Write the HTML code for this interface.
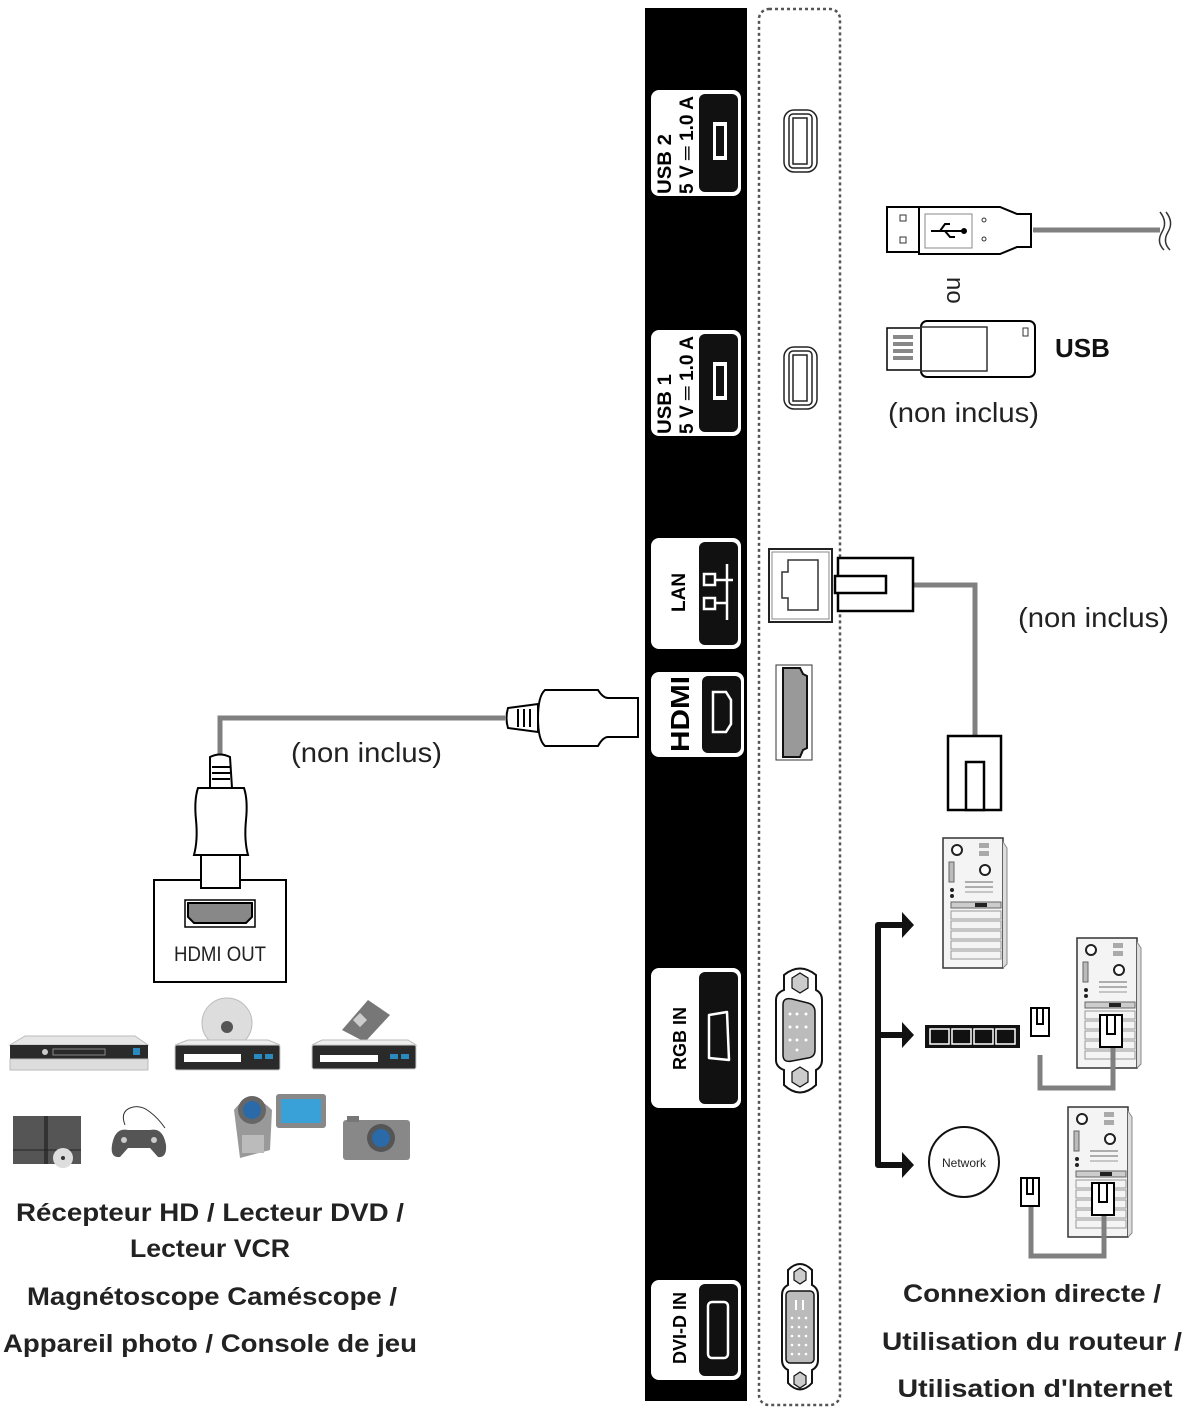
<!DOCTYPE html>
<html><head><meta charset="utf-8"><style>
html,body{margin:0;padding:0;background:#fff;}
svg{display:block;}
text{font-family:"Liberation Sans",sans-serif;}
</style></head><body>
<svg width="1189" height="1409" viewBox="0 0 1189 1409" xmlns="http://www.w3.org/2000/svg">
<defs>
<g id="pc">
 <rect x="0" y="0" width="60" height="130" fill="#f4f4f4" stroke="#333" stroke-width="1.5"/>
 <path d="M60 4 L64 10 L64 126 L60 130" fill="#ddd" stroke="#888"/>
 <circle cx="14" cy="12" r="5" fill="#fff" stroke="#222" stroke-width="2"/>
 <rect x="36" y="5" width="10" height="5" fill="#aaa"/><rect x="36" y="13" width="10" height="5" fill="#aaa"/>
 <circle cx="42" cy="32" r="5" fill="#fff" stroke="#222" stroke-width="2"/>
 <rect x="6" y="24" width="5" height="20" fill="#bbb" stroke="#666"/>
 <circle cx="9" cy="52" r="2" fill="#222"/><circle cx="9" cy="58" r="2" fill="#222"/>
 <line x1="22" y1="44" x2="50" y2="44" stroke="#666"/><line x1="22" y1="49" x2="50" y2="49" stroke="#666"/><line x1="22" y1="54" x2="50" y2="54" stroke="#999"/>
 <rect x="8" y="64" width="50" height="6" fill="#ccc" stroke="#666"/><rect x="32" y="65" width="12" height="4" fill="#222"/>
 <g stroke="#999" fill="none"><rect x="8" y="73" width="50" height="8"/><rect x="8" y="83" width="50" height="8"/><rect x="8" y="93" width="50" height="8"/><rect x="8" y="103" width="50" height="8"/><rect x="8" y="113" width="50" height="8"/></g>
</g>
<g id="rj">
 <rect x="0" y="0" width="18" height="28" fill="#fff" stroke="#000" stroke-width="2"/>
 <rect x="6" y="0" width="6" height="16" fill="#fff" stroke="#000" stroke-width="2"/>
</g>
</defs>

<rect x="645" y="8" width="102" height="1393" fill="#000"/>
<rect x="759" y="9" width="81" height="1396" rx="10" fill="none" stroke="#555" stroke-width="2.5" stroke-dasharray="3,3"/>

<!-- USB2 -->
<rect x="651" y="90" width="90" height="106" rx="8" fill="#fff"/>
<rect x="699" y="94" width="39" height="98" rx="6" fill="#111"/>
<rect x="713" y="122" width="14" height="38" fill="#fff"/><rect x="716" y="126" width="8" height="30" fill="#111"/>
<text transform="translate(671,194) rotate(-90)" font-size="19" font-weight="bold" textLength="60" lengthAdjust="spacingAndGlyphs">USB 2</text>
<text transform="translate(693,194) rotate(-90)" font-size="19" font-weight="bold" textLength="98" lengthAdjust="spacingAndGlyphs">5 V ═ 1.0 A</text>
<!-- USB1 -->
<rect x="651" y="330" width="90" height="106" rx="8" fill="#fff"/>
<rect x="699" y="334" width="39" height="98" rx="6" fill="#111"/>
<rect x="713" y="362" width="14" height="38" fill="#fff"/><rect x="716" y="366" width="8" height="30" fill="#111"/>
<text transform="translate(671,434) rotate(-90)" font-size="19" font-weight="bold" textLength="60" lengthAdjust="spacingAndGlyphs">USB 1</text>
<text transform="translate(693,434) rotate(-90)" font-size="19" font-weight="bold" textLength="98" lengthAdjust="spacingAndGlyphs">5 V ═ 1.0 A</text>
<!-- LAN -->
<rect x="651" y="538" width="90" height="111" rx="8" fill="#fff"/>
<rect x="699" y="542" width="39" height="103" rx="6" fill="#111"/>
<text transform="translate(685,612) rotate(-90)" font-size="19" font-weight="bold">LAN</text>
<g fill="none" stroke="#fff" stroke-width="2.5"><rect x="704" y="574" width="11" height="11"/><rect x="704" y="598" width="11" height="11"/><line x1="727" y1="564" x2="727" y2="620"/><line x1="715" y1="580" x2="733" y2="580"/><line x1="715" y1="603" x2="727" y2="603"/></g>
<!-- HDMI -->
<rect x="651" y="672" width="93" height="85" rx="8" fill="#fff"/>
<rect x="702" y="676" width="39" height="77" rx="6" fill="#111"/>
<path d="M713 692 L726 692 L731 700 L731 724 L726 732 L713 732 Z" fill="none" stroke="#fff" stroke-width="2.5"/>
<text transform="translate(689,752) rotate(-90)" font-size="26" font-weight="bold" textLength="76" lengthAdjust="spacingAndGlyphs">HDMI</text>
<!-- RGB -->
<rect x="651" y="968" width="90" height="140" rx="8" fill="#fff"/>
<rect x="699" y="972" width="39" height="132" rx="6" fill="#111"/>
<path d="M709 1015 L727 1012 L729 1060 L709 1058 Z" fill="none" stroke="#fff" stroke-width="2.5" stroke-linejoin="round"/>
<text transform="translate(686,1070) rotate(-90)" font-size="18" font-weight="bold">RGB IN</text>
<!-- DVI -->
<rect x="651" y="1280" width="90" height="100" rx="8" fill="#fff"/>
<rect x="699" y="1284" width="39" height="92" rx="6" fill="#111"/>
<rect x="708" y="1302" width="20" height="56" rx="4" fill="none" stroke="#fff" stroke-width="2.5"/>
<text transform="translate(686,1364) rotate(-90)" font-size="18" font-weight="bold">DVI-D IN</text>

<g fill="#fff" stroke="#222" stroke-width="1.5">
<rect x="784" y="110" width="33" height="62" rx="10"/><rect x="789" y="114" width="23" height="54" rx="4"/><rect x="793" y="118" width="14" height="46" fill="#fff"/>
<rect x="784" y="347" width="33" height="62" rx="10"/><rect x="789" y="351" width="23" height="54" rx="4"/><rect x="793" y="355" width="14" height="46" fill="#fff"/>
</g>
<rect x="769" y="549" width="63" height="73" fill="#fff" stroke="#222" stroke-width="2"/>
<rect x="772" y="552" width="57" height="67" fill="none" stroke="#888"/>
<path d="M788 560 L818 560 L818 610 L788 610 L788 598 L782 598 L782 572 L788 572 Z" fill="none" stroke="#333" stroke-width="1.5"/>
<path d="M914 585 L975 585 L975 736" fill="none" stroke="#808080" stroke-width="5"/>
<rect x="838" y="558" width="75" height="53" fill="#fff" stroke="#000" stroke-width="2.5"/>
<rect x="835" y="576" width="51" height="17" fill="#fff" stroke="#000" stroke-width="2.5"/>
<rect x="948" y="736" width="53" height="74" fill="#fff" stroke="#000" stroke-width="2.5"/>
<rect x="966" y="762" width="18" height="48" fill="#fff" stroke="#000" stroke-width="2.5"/>
<rect x="776" y="665" width="36" height="95" fill="#fff" stroke="#333"/>
<path d="M783 668 L800 668 L803 674 L807 676 L807 748 L803 750 L800 757 L783 757 Z" fill="#999" stroke="#111" stroke-width="2"/>
<g stroke="#111" stroke-width="2">
<path d="M784 975 Q800 962 816 975 L816 990 Q822 993 822 1000 L822 1060 Q822 1067 816 1070 L816 1085 Q800 1100 784 1085 L784 1070 Q776 1067 776 1060 L776 1000 Q776 993 784 990 Z" fill="#fff"/>
<polygon points="792,978 800,973 808,978 808,988 800,993 792,988" fill="#ccc" stroke-width="1.2"/>
<polygon points="792,1072 800,1067 808,1072 808,1082 800,1087 792,1082" fill="#ccc" stroke-width="1.2"/>
<path d="M783 1005 Q783 997 792 999 L808 1003 Q815 1005 815 1012 L815 1050 Q815 1057 808 1058 L792 1061 Q783 1063 783 1055 Z" fill="#bbb" stroke-width="1.5"/>
</g>
<g fill="#fff"><circle cx="790" cy="1014" r="1.5"/><circle cx="797" cy="1014" r="1.5"/><circle cx="806" cy="1014" r="1.5"/><circle cx="790" cy="1027" r="1.5"/><circle cx="797" cy="1027" r="1.5"/><circle cx="806" cy="1027" r="1.5"/><circle cx="790" cy="1040" r="1.5"/><circle cx="797" cy="1040" r="1.5"/><circle cx="806" cy="1040" r="1.5"/><circle cx="797" cy="1050" r="1.5"/></g>
<g stroke="#111" stroke-width="2">
<path d="M788 1270 Q800 1258 812 1270 L812 1285 Q818 1288 818 1295 L818 1360 Q818 1367 812 1370 L812 1383 Q800 1396 788 1383 L788 1370 Q782 1367 782 1360 L782 1295 Q782 1288 788 1285 Z" fill="#fff"/>
<polygon points="794,1272 800,1268 806,1272 806,1280 800,1284 794,1280" fill="#ccc" stroke-width="1.2"/>
<polygon points="794,1376 800,1372 806,1376 806,1384 800,1388 794,1384" fill="#ccc" stroke-width="1.2"/>
<rect x="786" y="1291" width="28" height="72" rx="4" fill="#bbb" stroke-width="1.5"/>
</g>
<g fill="#fff"><rect x="795" y="1300" width="2" height="10"/><rect x="802" y="1300" width="2" height="10"/>
<circle cx="792" cy="1318" r="1.3"/><circle cx="799" cy="1318" r="1.3"/><circle cx="806" cy="1318" r="1.3"/>
<circle cx="792" cy="1327" r="1.3"/><circle cx="799" cy="1327" r="1.3"/><circle cx="806" cy="1327" r="1.3"/>
<circle cx="792" cy="1336" r="1.3"/><circle cx="799" cy="1336" r="1.3"/><circle cx="806" cy="1336" r="1.3"/>
<circle cx="792" cy="1345" r="1.3"/><circle cx="799" cy="1345" r="1.3"/><circle cx="806" cy="1345" r="1.3"/>
<circle cx="792" cy="1354" r="1.3"/><circle cx="799" cy="1354" r="1.3"/><circle cx="806" cy="1354" r="1.3"/></g>

<!-- HDMI cable -->
<path d="M505 718 L220 718 L220 756" fill="none" stroke="#808080" stroke-width="5"/>
<path d="M545 690 L598 690 Q603 698 608 698 L638 698 L638 737 L608 737 Q603 737 598 746 L545 746 Q538 740 538 718 Q538 696 545 690 Z" fill="#fff" stroke="#000" stroke-width="2"/>
<path d="M508 708 L538 704 L538 732 L508 728 Q505 718 508 708 Z" fill="#fff" stroke="#000" stroke-width="2"/>
<g stroke="#000" stroke-width="2"><line x1="518" y1="709" x2="518" y2="727"/><line x1="524" y1="709" x2="524" y2="727"/><line x1="530" y1="709" x2="530" y2="727"/></g>
<path d="M210 757 Q220 752 230 757 L232 788 L210 788 Z" fill="#fff" stroke="#000" stroke-width="2"/>
<g stroke="#000" stroke-width="2"><line x1="212" y1="767" x2="230" y2="767"/><line x1="212" y1="773" x2="230" y2="773"/><line x1="212" y1="779" x2="230" y2="779"/></g>
<path d="M198 788 L244 788 Q248 800 246 820 Q244 840 248 855 L194 855 Q198 840 196 820 Q194 800 198 788 Z" fill="#fff" stroke="#000" stroke-width="2"/>
<rect x="201" y="855" width="39" height="33" fill="#fff" stroke="#000" stroke-width="2"/>
<path d="M201 880 L154 880 L154 982 L286 982 L286 880 L240 880" fill="none" stroke="#000" stroke-width="2"/>
<rect x="185" y="900" width="70" height="27" fill="#fff" stroke="#000" stroke-width="1.5"/>
<path d="M188 903 L252 903 L252 917 L246 923 L194 923 L188 917 Z" fill="#888" stroke="#000" stroke-width="2"/>
<text x="220" y="961" font-size="21" text-anchor="middle" textLength="92" lengthAdjust="spacingAndGlyphs" fill="#222">HDMI OUT</text>
<text x="291" y="762" font-size="28" fill="#222" textLength="151" lengthAdjust="spacingAndGlyphs">(non inclus)</text>
<text x="888" y="422" font-size="28" fill="#222" textLength="151" lengthAdjust="spacingAndGlyphs">(non inclus)</text>
<text x="1018" y="627" font-size="28" fill="#222" textLength="151" lengthAdjust="spacingAndGlyphs">(non inclus)</text>

<path d="M1033 230 L1160 230" stroke="#808080" stroke-width="5"/>
<path d="M1160 212 Q1168 222 1162 232 Q1156 242 1164 250 M1166 212 Q1174 222 1168 232 Q1162 242 1170 250" fill="none" stroke="#333" stroke-width="1.5"/>
<rect x="887" y="207" width="32" height="45" fill="#fff" stroke="#000" stroke-width="2"/>
<path d="M919 207 L1000 207 L1017 214 L1031 214 L1031 247 L1017 247 L1000 254 L919 254 Z" fill="#fff" stroke="#000" stroke-width="2"/>
<rect x="925" y="214" width="47" height="34" fill="#fff" stroke="#888"/>
<rect x="900" y="215" width="6" height="6" fill="none" stroke="#333"/><rect x="900" y="237" width="6" height="6" fill="none" stroke="#333"/>
<circle cx="984" cy="220" r="2" fill="none" stroke="#333"/><circle cx="984" cy="239" r="2" fill="none" stroke="#333"/>
<path d="M931 231 L963 231 M940 231 L945 224 L950 224 M945 231 L950 237 L955 237" fill="none" stroke="#000" stroke-width="2"/>
<circle cx="964" cy="231" r="3" fill="#000"/>
<text transform="translate(947,277) rotate(90)" font-size="24" fill="#222">no</text>
<rect x="887" y="328" width="34" height="42" fill="#fff" stroke="#000" stroke-width="1.5"/>
<g fill="#888"><rect x="893" y="335" width="20" height="4"/><rect x="893" y="342" width="20" height="4"/><rect x="893" y="349" width="20" height="4"/><rect x="893" y="356" width="20" height="4"/></g>
<rect x="921" y="321" width="114" height="56" rx="6" fill="#fff" stroke="#000" stroke-width="2"/>
<rect x="921" y="327" width="66" height="44" fill="none" stroke="#333" stroke-width="1.5"/>
<rect x="1023" y="328" width="5" height="8" fill="none" stroke="#333"/>
<text x="1055" y="357" font-size="26" font-weight="bold" fill="#111">USB</text>

<path d="M906 925 L878 925 L878 1165 L906 1165 M878 1035 L906 1035" fill="none" stroke="#111" stroke-width="6" stroke-linejoin="round"/>
<polygon points="902,912 914,925 902,938" fill="#111"/>
<polygon points="902,1022 914,1035 902,1048" fill="#111"/>
<polygon points="902,1152 914,1165 902,1178" fill="#111"/>
<use href="#pc" x="943" y="838"/>
<use href="#pc" x="1077" y="938"/>
<use href="#pc" x="1068" y="1107"/>
<rect x="925" y="1025" width="95" height="23" fill="#111"/>
<g fill="none" stroke="#fff" stroke-width="1.5"><rect x="930" y="1029" width="19" height="15"/><rect x="952" y="1029" width="19" height="15"/><rect x="974" y="1029" width="19" height="15"/><rect x="996" y="1029" width="19" height="15"/></g>
<path d="M1040 1055 L1040 1088 L1113 1088 L1113 1040" fill="none" stroke="#808080" stroke-width="5"/>
<use href="#rj" x="1031" y="1008"/>
<rect x="1100" y="1015" width="22" height="32" fill="#fff" stroke="#000" stroke-width="2"/><rect x="1107" y="1015" width="8" height="19" fill="#fff" stroke="#000" stroke-width="2"/>
<circle cx="964" cy="1162" r="35" fill="#fff" stroke="#111" stroke-width="2"/>
<text x="964" y="1167" font-size="12" text-anchor="middle" fill="#222">Network</text>
<path d="M1031 1205 L1031 1256 L1104 1256 L1104 1210" fill="none" stroke="#808080" stroke-width="5"/>
<use href="#rj" x="1021" y="1178"/>
<rect x="1092" y="1183" width="22" height="32" fill="#fff" stroke="#000" stroke-width="2"/><rect x="1099" y="1183" width="8" height="19" fill="#fff" stroke="#000" stroke-width="2"/>

<g>
 <path d="M10 1045 L25 1036 L135 1036 L148 1045 Z" fill="#e6e6e6" stroke="#bbb"/>
 <rect x="10" y="1045" width="138" height="14" fill="#2a2a2a"/>
 <rect x="10" y="1059" width="138" height="11" fill="#ddd" stroke="#bbb"/>
 <rect x="53" y="1049" width="52" height="6" fill="none" stroke="#888"/><circle cx="45" cy="1052" r="3" fill="#ccc"/><rect x="133" y="1048" width="7" height="7" fill="#2a8ac0"/>
 <circle cx="227" cy="1023" r="25" fill="#ddd" stroke="#bbb"/><circle cx="227" cy="1027" r="6" fill="#555"/>
 <path d="M175 1045 L188 1040 L268 1040 L280 1045 Z" fill="#eee" stroke="#bbb"/>
 <rect x="175" y="1045" width="105" height="25" rx="2" fill="#2a2a2a" stroke="#ccc"/>
 <rect x="184" y="1054" width="57" height="8" fill="#fff"/><rect x="254" y="1054" width="8" height="5" fill="#2a8ac0"/><rect x="265" y="1054" width="8" height="5" fill="#2a8ac0"/>
 <polygon points="342,1030 368,1000 390,1015 365,1042" fill="#777"/>
 <rect x="355" y="1015" width="10" height="10" fill="#ccc" transform="rotate(-45 360 1020)"/>
 <path d="M312 1045 L322 1040 L408 1040 L416 1045 Z" fill="#eee" stroke="#bbb"/>
 <rect x="312" y="1045" width="104" height="24" rx="2" fill="#2a2a2a" stroke="#ccc"/>
 <rect x="320" y="1055" width="58" height="7" fill="#fff"/><rect x="390" y="1054" width="8" height="5" fill="#2a8ac0"/><rect x="401" y="1054" width="8" height="5" fill="#2a8ac0"/>
 <rect x="13" y="1116" width="68" height="48" fill="#555"/><rect x="44" y="1116" width="4" height="48" fill="#333"/><line x1="13" y1="1150" x2="81" y2="1150" stroke="#222"/>
 <circle cx="63" cy="1158" r="10" fill="#ddd"/><circle cx="63" cy="1158" r="2" fill="#333"/>
 <path d="M125 1125 Q120 1112 130 1108 Q140 1104 150 1112 Q158 1118 165 1128" fill="none" stroke="#333"/>
 <path d="M112 1145 Q115 1127 128 1130 L150 1130 Q163 1127 166 1145 Q167 1158 158 1157 L150 1148 L128 1148 L120 1157 Q110 1158 112 1145 Z" fill="#555"/>
 <circle cx="124" cy="1140" r="3" fill="#ccc"/><circle cx="154" cy="1140" r="3" fill="#ccc"/>
 <rect x="276" y="1094" width="50" height="34" rx="3" fill="#888"/><rect x="281" y="1099" width="40" height="24" fill="#3aa0d8"/>
 <path d="M234 1110 Q250 1088 272 1110 L270 1150 L240 1158 Z" fill="#999"/>
 <circle cx="252" cy="1110" r="14" fill="#666"/><circle cx="252" cy="1110" r="9" fill="#2a6aa8"/>
 <rect x="242" y="1135" width="22" height="18" fill="#bbb"/>
 <rect x="343" y="1120" width="67" height="40" rx="3" fill="#888"/><rect x="347" y="1116" width="12" height="6" fill="#777"/>
 <circle cx="381" cy="1138" r="14" fill="#555"/><circle cx="381" cy="1138" r="9" fill="#2a6aa8"/>
</g>

<g font-weight="bold" fill="#222" font-size="25" text-anchor="middle">
<text x="210" y="1221" textLength="388" lengthAdjust="spacingAndGlyphs">Récepteur HD / Lecteur DVD /</text>
<text x="210" y="1257" textLength="160" lengthAdjust="spacingAndGlyphs">Lecteur VCR</text>
<text x="212" y="1305" textLength="370" lengthAdjust="spacingAndGlyphs">Magnétoscope Caméscope /</text>
<text x="210" y="1352" textLength="414" lengthAdjust="spacingAndGlyphs">Appareil photo / Console de jeu</text>
<text x="1032" y="1302" textLength="258" lengthAdjust="spacingAndGlyphs">Connexion directe /</text>
<text x="1032" y="1350" textLength="300" lengthAdjust="spacingAndGlyphs">Utilisation du routeur /</text>
<text x="1035" y="1397" textLength="275" lengthAdjust="spacingAndGlyphs">Utilisation d'Internet</text>
</g>
</svg>
</body></html>
